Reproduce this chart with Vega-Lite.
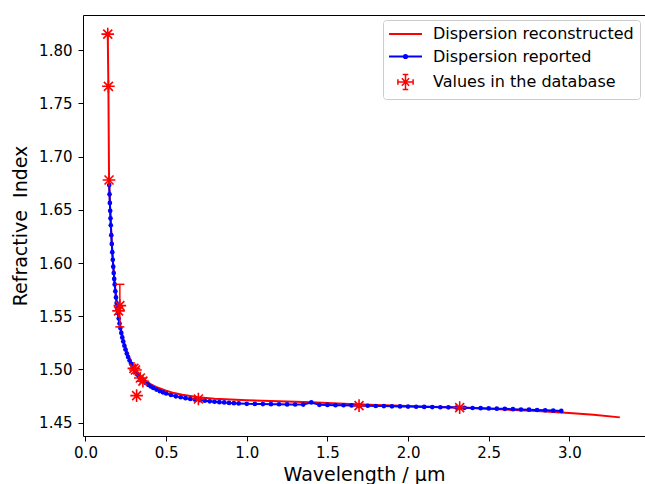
{
  "$schema": "https://vega.github.io/schema/vega-lite/v6.json",
  "width": 562,
  "height": 421,
  "autosize": {"type": "none"},
  "padding": {"left": 83, "top": 15, "right": 0, "bottom": 48},
  "background": "white",
  "config": {
    "font": "DejaVu Sans",
    "view": {"stroke": "#000000", "strokeWidth": 1},
    "axis": {
      "domain": false, "grid": false, "ticks": true, "tickColor": "#000000", "tickSize": 5, "tickWidth": 1,
      "labelFont": "DejaVu Sans", "labelFontSize": 15, "labelColor": "#000000",
      "titleFont": "DejaVu Sans", "titleFontSize": 19, "titleFontWeight": "normal", "titleColor": "#000000",
      "labelFlush": false, "labelOverlap": false, "labelBound": false
    },
    "legend": {
      "orient": "top-right", "offset": 5, "padding": 6, "fillColor": "white", "strokeColor": "#cccccc",
      "cornerRadius": 3, "labelFont": "DejaVu Sans", "labelFontSize": 16, "labelColor": "#000000",
      "symbolSize": 256, "symbolOffset": 8.5, "labelOffset": 19.5, "rowPadding": 6.5, "labelLimit": 400
    }
  },
  "datasets": {
    "recon": [
      {"l": 0.138, "n": 1.815}, {"l": 0.142, "n": 1.766}, {"l": 0.146, "n": 1.678}, {"l": 0.15, "n": 1.662},
      {"l": 0.155, "n": 1.644}, {"l": 0.16, "n": 1.628}, {"l": 0.165, "n": 1.614}, {"l": 0.17, "n": 1.602},
      {"l": 0.18, "n": 1.583}, {"l": 0.19, "n": 1.568}, {"l": 0.2, "n": 1.556}, {"l": 0.21, "n": 1.546},
      {"l": 0.22, "n": 1.5375}, {"l": 0.23, "n": 1.531}, {"l": 0.24, "n": 1.525}, {"l": 0.26, "n": 1.5155},
      {"l": 0.28, "n": 1.508}, {"l": 0.3, "n": 1.502}, {"l": 0.33, "n": 1.4955}, {"l": 0.36, "n": 1.491},
      {"l": 0.4, "n": 1.4865}, {"l": 0.45, "n": 1.4828}, {"l": 0.5, "n": 1.48}, {"l": 0.55, "n": 1.4778},
      {"l": 0.6, "n": 1.4762}, {"l": 0.7, "n": 1.474}, {"l": 0.8, "n": 1.4726}, {"l": 0.9, "n": 1.4718},
      {"l": 1.0, "n": 1.4712}, {"l": 1.2, "n": 1.4701}, {"l": 1.4, "n": 1.4693}, {"l": 1.6, "n": 1.4679},
      {"l": 1.8, "n": 1.4666}, {"l": 2.0, "n": 1.4656}, {"l": 2.2, "n": 1.4647}, {"l": 2.4, "n": 1.4637},
      {"l": 2.6, "n": 1.4624}, {"l": 2.8, "n": 1.4609}, {"l": 3.0, "n": 1.4591}, {"l": 3.15, "n": 1.4575},
      {"l": 3.313, "n": 1.455}
    ],
    "reported": [
      {"l": 0.147, "n": 1.6732}, {"l": 0.149, "n": 1.6646}, {"l": 0.151, "n": 1.6565}, {"l": 0.153, "n": 1.649},
      {"l": 0.155, "n": 1.642}, {"l": 0.157, "n": 1.6354}, {"l": 0.16, "n": 1.6262}, {"l": 0.163, "n": 1.6179},
      {"l": 0.166, "n": 1.6102}, {"l": 0.169, "n": 1.6031}, {"l": 0.172, "n": 1.5966}, {"l": 0.175, "n": 1.5906},
      {"l": 0.178, "n": 1.5851}, {"l": 0.181, "n": 1.5799}, {"l": 0.185, "n": 1.5735}, {"l": 0.189, "n": 1.5677},
      {"l": 0.193, "n": 1.5624}, {"l": 0.197, "n": 1.5575}, {"l": 0.201, "n": 1.553}, {"l": 0.206, "n": 1.5479},
      {"l": 0.211, "n": 1.5432}, {"l": 0.216, "n": 1.5389}, {"l": 0.222, "n": 1.5343}, {"l": 0.228, "n": 1.5301},
      {"l": 0.234, "n": 1.5263}, {"l": 0.241, "n": 1.5223}, {"l": 0.248, "n": 1.5187}, {"l": 0.256, "n": 1.515},
      {"l": 0.264, "n": 1.5117}, {"l": 0.273, "n": 1.5084}, {"l": 0.282, "n": 1.5054}, {"l": 0.292, "n": 1.5024},
      {"l": 0.302, "n": 1.4999}, {"l": 0.313, "n": 1.4973}, {"l": 0.324, "n": 1.495}, {"l": 0.336, "n": 1.4928},
      {"l": 0.348, "n": 1.4909}, {"l": 0.361, "n": 1.489}, {"l": 0.375, "n": 1.4872}, {"l": 0.39, "n": 1.4855},
      {"l": 0.405, "n": 1.484}, {"l": 0.42, "n": 1.4826}, {"l": 0.44, "n": 1.4811}, {"l": 0.46, "n": 1.4797},
      {"l": 0.48, "n": 1.4785}, {"l": 0.5, "n": 1.4774}, {"l": 0.53, "n": 1.476}, {"l": 0.56, "n": 1.4748},
      {"l": 0.59, "n": 1.4739}, {"l": 0.62, "n": 1.473}, {"l": 0.65, "n": 1.4723}, {"l": 0.68, "n": 1.4716},
      {"l": 0.71, "n": 1.4711}, {"l": 0.74, "n": 1.4706}, {"l": 0.77, "n": 1.4701}, {"l": 0.8, "n": 1.4697},
      {"l": 0.83, "n": 1.4693}, {"l": 0.86, "n": 1.469}, {"l": 0.89, "n": 1.4686}, {"l": 0.92, "n": 1.4683},
      {"l": 0.95, "n": 1.4681}, {"l": 1.0, "n": 1.4677}, {"l": 1.05, "n": 1.4676}, {"l": 1.1, "n": 1.4675},
      {"l": 1.15, "n": 1.4674}, {"l": 1.2, "n": 1.4673}, {"l": 1.25, "n": 1.4672}, {"l": 1.3, "n": 1.4671},
      {"l": 1.35, "n": 1.467}, {"l": 1.4, "n": 1.469}, {"l": 1.45, "n": 1.4668}, {"l": 1.5, "n": 1.4667},
      {"l": 1.55, "n": 1.4665}, {"l": 1.6, "n": 1.4664}, {"l": 1.65, "n": 1.4662}, {"l": 1.7, "n": 1.466},
      {"l": 1.75, "n": 1.4659}, {"l": 1.8, "n": 1.4657}, {"l": 1.85, "n": 1.4656}, {"l": 1.9, "n": 1.4654},
      {"l": 1.95, "n": 1.4653}, {"l": 2.0, "n": 1.4651}, {"l": 2.05, "n": 1.465}, {"l": 2.1, "n": 1.4648},
      {"l": 2.15, "n": 1.4647}, {"l": 2.2, "n": 1.4645}, {"l": 2.25, "n": 1.4644}, {"l": 2.3, "n": 1.4642},
      {"l": 2.35, "n": 1.464}, {"l": 2.4, "n": 1.4638}, {"l": 2.45, "n": 1.4636}, {"l": 2.5, "n": 1.4634},
      {"l": 2.55, "n": 1.4632}, {"l": 2.6, "n": 1.463}, {"l": 2.65, "n": 1.4627}, {"l": 2.7, "n": 1.4624},
      {"l": 2.75, "n": 1.4622}, {"l": 2.8, "n": 1.4619}, {"l": 2.85, "n": 1.4617}, {"l": 2.9, "n": 1.4614},
      {"l": 2.95, "n": 1.4611}
    ],
    "db": [
      {"l": 0.138, "n": 1.815}, {"l": 0.142, "n": 1.766}, {"l": 0.146, "n": 1.678}, {"l": 0.205, "n": 1.555},
      {"l": 0.213, "n": 1.56}, {"l": 0.3, "n": 1.501}, {"l": 0.31, "n": 1.4995}, {"l": 0.317, "n": 1.4754},
      {"l": 0.34, "n": 1.492}, {"l": 0.356, "n": 1.489}, {"l": 0.7, "n": 1.4723}, {"l": 1.696, "n": 1.466},
      {"l": 2.32, "n": 1.4642}
    ],
    "err": [
      {"l": 0.213, "lo": 1.54, "hi": 1.58}
    ]
  },
  "layer": [
    {
      "data": {"name": "recon"},
      "mark": {"type": "line", "strokeWidth": 2, "clip": true},
      "encoding": {
        "x": {"field": "l", "type": "quantitative",
              "scale": {"domain": [-0.0155, 3.469], "nice": false, "zero": false},
              "axis": {"values": [0, 0.5, 1, 1.5, 2, 2.5, 3], "format": ".1f", "labelPadding": 4, "titlePadding": 5, "title": "Wavelength / µm"}},
        "y": {"field": "n", "type": "quantitative",
              "scale": {"domain": [1.4375, 1.833], "nice": false, "zero": false},
              "axis": {"values": [1.45, 1.5, 1.55, 1.6, 1.65, 1.7, 1.75, 1.8], "format": ".2f", "labelPadding": 6, "titlePadding": 8, "title": "Refractive\u00a0 Index"}},
        "color": {
          "datum": "Dispersion reconstructed",
          "scale": {"domain": ["Dispersion reconstructed", "Dispersion reported", "Values in the database"], "range": ["#ff0000", "#0000ff", "#ff0000"]},
          "legend": {
            "title": null,
            "encode": {
              "symbols": {
                "update": {
                  "shape": {"signal": "datum.value === 'Dispersion reconstructed' ? 'M-2.06,0L2.06,0' : (datum.value === 'Dispersion reported' ? 'M-2.06,0L2.06,0M-0.2,0A0.2,0.2,0,1,0,0.2,0A0.2,0.2,0,1,0,-0.2,0' : 'M-0.65,0L0.65,0M0,-0.65L0,0.65M-0.46,-0.46L0.46,0.46M-0.46,0.46L0.46,-0.46M0,-0.95L0,0.95M-0.35,-0.95L0.35,-0.95M-0.35,0.95L0.35,0.95M-0.95,0L0.95,0M-0.95,-0.35L-0.95,0.35M0.95,-0.35L0.95,0.35')"},
                  "stroke": {"signal": "datum.value === 'Dispersion reported' ? '#0000ff' : '#ff0000'"},
                  "fill": {"signal": "datum.value === 'Dispersion reported' ? '#0000ff' : 'transparent'"},
                  "strokeWidth": {"signal": "datum.value === 'Values in the database' ? 1.5 : 2"},
                  "size": {"value": 256},
                  "opacity": {"value": 1}
                }
              }
            }
          }
        }
      }
    },
    {
      "data": {"name": "reported"},
      "mark": {"type": "line", "strokeWidth": 2, "clip": true, "point": {"filled": true, "size": 22}},
      "encoding": {
        "x": {"field": "l", "type": "quantitative"},
        "y": {"field": "n", "type": "quantitative"},
        "color": {"datum": "Dispersion reported"}
      }
    },
    {
      "data": {"name": "err"},
      "mark": {"type": "rule", "color": "#ff0000", "strokeWidth": 1.5},
      "encoding": {
        "x": {"field": "l", "type": "quantitative"},
        "y": {"field": "lo", "type": "quantitative"},
        "y2": {"field": "hi"}
      }
    },
    {
      "data": {"name": "err"},
      "mark": {"type": "point", "shape": "stroke", "size": 81, "color": "#ff0000", "strokeWidth": 1.5, "filled": false, "opacity": 1},
      "encoding": {
        "x": {"field": "l", "type": "quantitative"},
        "y": {"field": "lo", "type": "quantitative"}
      }
    },
    {
      "data": {"name": "err"},
      "mark": {"type": "point", "shape": "stroke", "size": 81, "color": "#ff0000", "strokeWidth": 1.5, "filled": false, "opacity": 1},
      "encoding": {
        "x": {"field": "l", "type": "quantitative"},
        "y": {"field": "hi", "type": "quantitative"}
      }
    },
    {
      "data": {"name": "db"},
      "mark": {"type": "point", "shape": "M-1,0L1,0M0,-1L0,1M-0.71,-0.71L0.71,0.71M-0.71,0.71L0.71,-0.71", "size": 160, "filled": false, "strokeWidth": 1.6, "opacity": 1},
      "encoding": {
        "x": {"field": "l", "type": "quantitative"},
        "y": {"field": "n", "type": "quantitative"},
        "color": {"datum": "Values in the database"}
      }
    }
  ]
}
